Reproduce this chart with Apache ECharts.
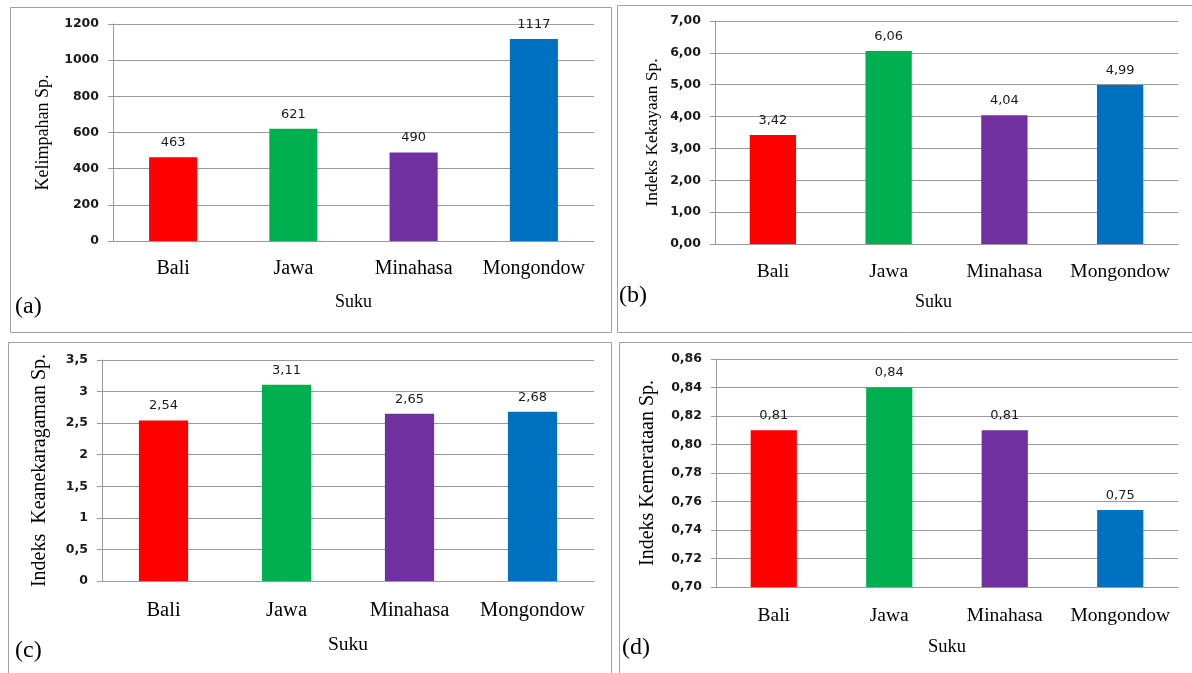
<!DOCTYPE html>
<html>
<head>
<meta charset="utf-8">
<script src="https://cdn.jsdelivr.net/npm/echarts@6/dist/echarts.min.js"></script>
<style>
  html, body { margin: 0; padding: 0; background: #ffffff; }
  #chart { width: 1192px; height: 673px; }
</style>
</head>
<body>
<div id="chart"></div>
<script>
// ---- data ----
const categories = ['Bali', 'Jawa', 'Minahasa', 'Mongondow'];
const barColors = ['#FF0000', '#00B050', '#7030A0', '#0070C0'];

const kelimpahan = [463, 621, 490, 1117];
const kekayaan = [3.42, 6.06, 4.04, 4.99];
const keanekaragaman = [2.54, 3.11, 2.65, 2.68];
const kemerataan = [0.81, 0.84, 0.81, 0.754];

const ticksA = ['0', '200', '400', '600', '800', '1000', '1200'];
const ticksB = ['0,00', '1,00', '2,00', '3,00', '4,00', '5,00', '6,00', '7,00'];
const ticksC = ['0', '0,5', '1', '1,5', '2', '2,5', '3', '3,5'];
const ticksD = ['0,70', '0,72', '0,74', '0,76', '0,78', '0,80', '0,82', '0,84', '0,86'];

const yNames = ['Kelimpahan Sp.', 'Indeks Kekayaan Sp.', 'Indeks  Keanekaragaman Sp.', 'Indeks Kemerataan Sp.'];
const xName = 'Suku';
const panelLabels = ['(a)', '(b)', '(c)', '(d)'];

// ---- layout ----
const SERIF = '"Liberation Serif", "Times New Roman", serif';
const SANS = '"DejaVu Sans", sans-serif';
const grids = [
  { left: 113, right: 598, top: 24, bottom: 432 },
  { left: 715, right: 14, top: 21, bottom: 429 },
  { left: 102, right: 598, top: 360, bottom: 92 },
  { left: 716, right: 14, top: 359, bottom: 86 }
];
const axisCfg = [
  { min: 0, max: 1200, interval: 200, ticks: ticksA, dec: 0, nameGap: 61, nameSize: 18, catSize: 20, catMargin: 18, xGap: 52, xSize: 18, xPad: [0,0,0,0], vals: kelimpahan },
  { min: 0, max: 7, interval: 1, ticks: ticksB, dec: 2, nameGap: 54, nameSize: 17.5, catSize: 19.5, catMargin: 18, xGap: 49, xSize: 18, xPad: [0,26,0,0], vals: kekayaan },
  { min: 0, max: 3.5, interval: 0.5, ticks: ticksC, dec: 2, nameGap: 52, nameSize: 20, catSize: 20.5, catMargin: 19, xGap: 54, xSize: 19.5, xPad: [0,0,0,0], vals: keanekaragaman },
  { min: 0.70, max: 0.86, interval: 0.02, ticks: ticksD, dec: 2, nameGap: 58, nameSize: 20, catSize: 19.5, catMargin: 19, xGap: 51, xSize: 18.5, xPad: [0,0,0,0], vals: kemerataan }
];

const GRIDC = '#9a9a9a';

const option = {
  backgroundColor: '#ffffff',
  animation: false,
  grid: grids.map(g => Object.assign({ containLabel: false }, g)),
  xAxis: axisCfg.map((c, i) => ({
    type: 'category',
    gridIndex: i,
    data: categories,
    name: xName,
    nameLocation: 'middle',
    nameGap: c.xGap,
    nameTextStyle: { fontFamily: SERIF, fontSize: c.xSize, color: '#000', padding: c.xPad },
    axisLine: { show: true, lineStyle: { color: GRIDC, width: 1 } },
    axisTick: { show: false },
    axisLabel: { fontFamily: SERIF, fontSize: c.catSize, color: '#000', margin: c.catMargin, interval: 0 }
  })),
  yAxis: axisCfg.map((c, i) => ({
    type: 'value',
    gridIndex: i,
    min: c.min,
    max: c.max,
    interval: c.interval,
    name: yNames[i],
    nameLocation: 'middle',
    nameGap: c.nameGap,
    nameRotate: 90,
    nameTextStyle: { fontFamily: SERIF, fontSize: c.nameSize, color: '#000' },
    axisLine: { show: true, lineStyle: { color: GRIDC, width: 1 } },
    axisTick: { show: true, length: 5, lineStyle: { color: GRIDC } },
    splitLine: { show: true, lineStyle: { color: GRIDC, width: 1 } },
    axisLabel: {
      fontFamily: SANS, fontSize: 12.5, fontWeight: 'bold', color: '#1a1a1a', margin: 14,
      formatter: v => c.ticks[Math.round((v - c.min) / c.interval)]
    }
  })),
  series: axisCfg.map((c, i) => ({
    type: 'bar',
    xAxisIndex: i,
    yAxisIndex: i,
    barWidth: '40%',
    data: c.vals,
    itemStyle: { color: p => barColors[p.dataIndex] },
    label: {
      show: true, position: 'top', distance: 8,
      fontFamily: SANS, fontSize: 13, color: '#1a1a1a',
      formatter: p => c.dec === 0 ? String(p.value) : p.value.toFixed(c.dec).replace('.', ',')
    }
  })),
  graphic: [
    { type: 'rect', shape: { x: 10.5, y: 7.5, width: 601, height: 325 }, style: { fill: 'none', stroke: '#a0a0a0', lineWidth: 1 }, silent: true },
    { type: 'rect', shape: { x: 617.5, y: 5.5, width: 590, height: 327 }, style: { fill: 'none', stroke: '#a0a0a0', lineWidth: 1 }, silent: true },
    { type: 'rect', shape: { x: 8.5, y: 342.5, width: 603, height: 340 }, style: { fill: 'none', stroke: '#a0a0a0', lineWidth: 1 }, silent: true },
    { type: 'rect', shape: { x: 619.5, y: 342.5, width: 590, height: 340 }, style: { fill: 'none', stroke: '#a0a0a0', lineWidth: 1 }, silent: true },
    { type: 'text', left: 15, top: 295, style: { text: panelLabels[0], font: '24px ' + SERIF, fill: '#000' } },
    { type: 'text', left: 619, top: 284, style: { text: panelLabels[1], font: '24px ' + SERIF, fill: '#000' } },
    { type: 'text', left: 15, top: 639, style: { text: panelLabels[2], font: '24px ' + SERIF, fill: '#000' } },
    { type: 'text', left: 622, top: 636, style: { text: panelLabels[3], font: '24px ' + SERIF, fill: '#000' } }
  ]
};

const chart = echarts.init(document.getElementById('chart'), null, { renderer: 'canvas' });
chart.setOption(option);
</script>
</body>
</html>
